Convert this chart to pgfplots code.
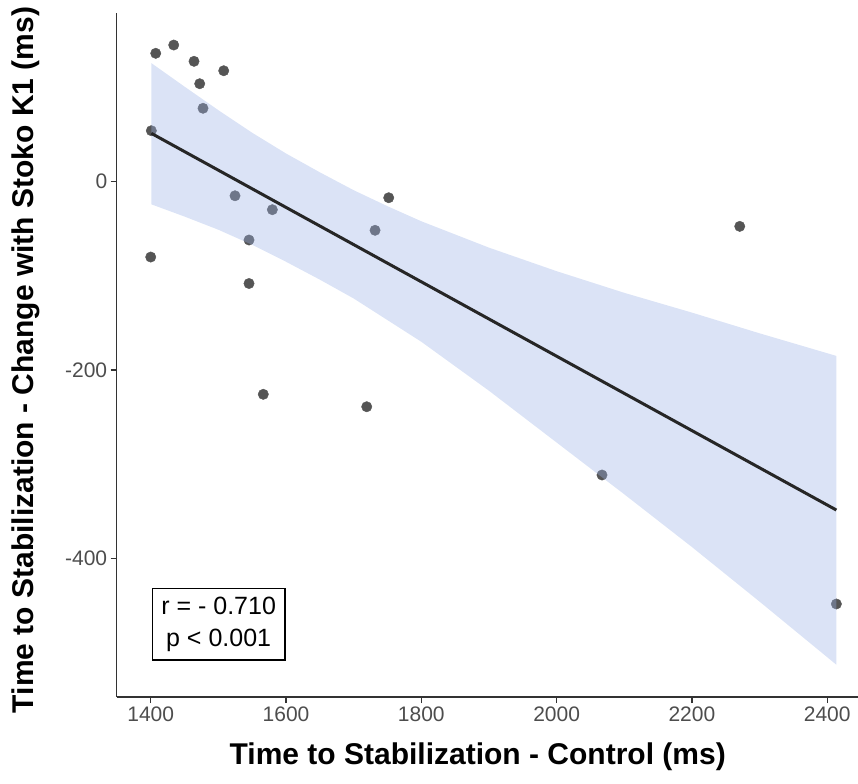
\documentclass[border=0pt]{standalone}
\usepackage{fontspec}
\setmainfont{Liberation Sans}
\usepackage{pgfplots}
\pgfplotsset{compat=1.18}

\definecolor{ptgray}{HTML}{555555}
\definecolor{band}{HTML}{9BB1E6}
\definecolor{fitline}{HTML}{262626}
\definecolor{axisgray}{HTML}{333333}
\definecolor{tickgray}{HTML}{4D4D4D}

\begin{document}
\begin{tikzpicture}
\useasboundingbox (-116.7bp,-87bp) rectangle (741.3bp,697bp);
\begin{axis}[
  at={(0,0)}, anchor=south west,
  scale only axis, width=741.3bp, height=683.5bp,
  xmin=1349.7, xmax=2445.5, ymin=-547.3, ymax=178.7,
  clip marker paths=true,
  axis lines=left,
  axis line style={-, axisgray, line width=1.3bp},
  tick align=outside, major tick length=6bp,
  tick style={axisgray, line width=1.3bp},
  xtick={1400,1600,1800,2000,2200,2400},
  xticklabels={1400,1600,1800,2000,2200,2400},
  ytick={-400,-200,0},
  yticklabels={-400,-200,0},
  ticklabel style={font=\fontsize{21bp}{25bp}\selectfont, text=tickgray},
  xlabel={Time to Stabilization - Control (ms)},
  ylabel={Time to Stabilization - Change with Stoko K1 (ms)},
  xlabel style={font=\bfseries\fontsize{30bp}{34bp}\selectfont,
    at={(axis description cs:0.487,-0.0878)}, anchor=center},
  ylabel style={font=\bfseries\fontsize{30bp}{34bp}\selectfont,
    at={(axis description cs:-0.1224,0.493)}, anchor=center},
]
% observations (drawn first, so the band tints the ones under it)
\addplot[only marks, mark=*, mark size=5.2bp,
  mark options={draw=ptgray, fill=ptgray}] table {
x y
1407.4 136.4
1434.0 145.2
1464.0 127.9
1507.9 117.9
1472.4 104.1
1477.3 78.0
1400.9 54.2
1524.6 -14.9
1579.8 -29.7
1751.8 -17.0
1731.6 -51.6
1545.3 -61.9
1400.0 -80.0
1545.3 -108.1
1566.4 -225.8
1719.3 -239.0
2270.7 -47.4
2067.1 -311.5
2413.5 -448.5
};

% 95% confidence band
\addplot[draw=none, fill=band, fill opacity=0.36] coordinates {
(1400.9,126) (1450,101) (1500,76) (1550,52) (1600,30) (1650,10)
(1700,-9) (1750,-26) (1800,-42) (1900,-70) (2000,-95) (2100,-118)
(2200,-139) (2300,-161) (2413.5,-185)
(2413.5,-513) (2300,-446) (2200,-388) (2100,-332) (2000,-277)
(1900,-222) (1800,-170) (1750,-147) (1700,-124) (1650,-104)
(1600,-85) (1550,-67) (1500,-51) (1450,-37) (1400.9,-24)
} -- cycle;

% fitted line
\addplot[fitline, line width=3bp] coordinates {(1400.9,51.4) (2413.5,-348.7)};

\node[draw=black, line width=1.3bp, anchor=south west,
  minimum width=132.6bp, minimum height=71.4bp, inner sep=0pt,
  align=center, font=\fontsize{25bp}{32.7bp}\selectfont]
  at (axis cs:1401.4,-508.8) {r = - 0.710\\p < 0.001};
\end{axis}
\end{tikzpicture}
\end{document}
